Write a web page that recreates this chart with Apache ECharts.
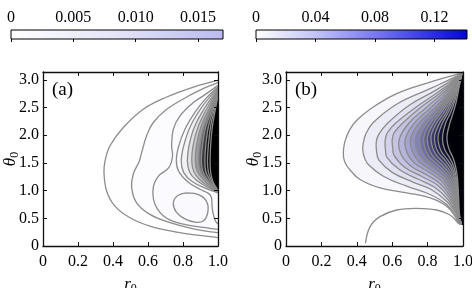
<!DOCTYPE html>
<html><head><meta charset="utf-8">
<script src="https://cdn.jsdelivr.net/npm/echarts@6/dist/echarts.min.js"></script>
<style>html,body{margin:0;padding:0;background:#fff}#c{width:472px;height:288px}</style>
</head><body><div id="c"></div>
<script>
// ---------- data ----------
const rTicks = [0, 0.2, 0.4, 0.6, 0.8, 1.0];
const thetaTicks = [0, 0.5, 1.0, 1.5, 2.0, 2.5, 3.0];
const cbarATicks = [0, 0.005, 0.010, 0.015];
const cbarBTicks = [0, 0.04, 0.08, 0.12];
const cbarAMax = 0.0170;
const cbarBMax = 0.1418;

// panel (a) contours: [r0, theta0]
const a1 = [[1,2.99],[0.86,2.87],[0.707,2.69],[0.573,2.47],[0.459,2.14],[0.383,1.81],[0.354,1.53],[0.349,1.30],[0.364,0.99],[0.411,0.72],[0.497,0.51],[0.611,0.36],[0.764,0.25],[0.897,0.19],[1,0.15]];
const a2 = [[1,2.95],[0.90,2.82],[0.821,2.69],[0.707,2.47],[0.63,2.23],[0.592,1.99],[0.564,1.69],[0.55,1.53],[0.516,1.30],[0.507,1.05],[0.535,0.78],[0.611,0.57],[0.726,0.42],[0.859,0.31],[1,0.24]];
const a3 = [[1,2.90],[0.92,2.72],[0.859,2.59],[0.783,2.35],[0.745,2.11],[0.735,1.81],[0.74,1.62],[0.72,1.42],[0.66,1.26],[0.63,1.05],[0.64,0.75],[0.707,0.50],[0.821,0.38],[0.93,0.33],[1,0.30]];
const a4 = [[1,2.87],[0.93,2.66],[0.87,2.42],[0.81,2.10],[0.775,1.80],[0.762,1.55],[0.775,1.35],[0.83,1.15],[0.90,1.02],[0.945,0.95],[0.962,0.88],[0.965,0.78],[0.97,0.62],[0.985,0.45],[1,0.40]];
const a5 = [[0.82,0.96],[0.77,0.91],[0.745,0.78],[0.76,0.62],[0.805,0.50],[0.87,0.43],[0.915,0.45],[0.94,0.58],[0.938,0.78],[0.895,0.92],[0.82,0.96]];
const a6 = [[1,2.85],[0.92,2.56],[0.845,2.18],[0.805,1.82],[0.79,1.53],[0.805,1.32],[0.85,1.17],[0.93,1.04],[1,0.96]];
const a7 = [[1,2.83],[0.932,2.53],[0.868,2.17],[0.835,1.82],[0.825,1.53],[0.838,1.33],[0.875,1.19],[0.94,1.06],[1,0.97]];
const a8 = [[1,2.81],[0.942,2.51],[0.887,2.16],[0.858,1.82],[0.85,1.53],[0.862,1.34],[0.895,1.20],[0.948,1.07],[1,0.975]];
const a9 = [[1,2.80],[0.951,2.49],[0.903,2.16],[0.877,1.82],[0.87,1.53],[0.881,1.35],[0.912,1.21],[0.956,1.08],[1,0.98]];
const a10 = [[1,2.79],[0.959,2.48],[0.918,2.15],[0.896,1.82],[0.89,1.53],[0.90,1.35],[0.927,1.22],[0.963,1.09],[1,0.985]];
const a11 = [[1,2.77],[0.965,2.46],[0.93,2.15],[0.912,1.82],[0.905,1.53],[0.912,1.36],[0.935,1.22],[0.965,1.09],[1,0.99]];
const a12 = [[1,2.75],[0.972,2.46],[0.945,2.15],[0.93,1.82],[0.925,1.53],[0.93,1.35],[0.95,1.21],[0.972,1.09],[1,0.995]];
const a13 = [[1,2.73],[0.978,2.46],[0.958,2.16],[0.945,1.82],[0.94,1.53],[0.945,1.34],[0.962,1.19],[0.98,1.08],[1,1.0]];
const a14 = [[1,2.70],[0.984,2.45],[0.968,2.16],[0.958,1.82],[0.955,1.53],[0.958,1.33],[0.97,1.17],[0.985,1.08],[1,1.005]];

// panel (b) contours (all meet near the top-right and bottom-right corners)
const b1 = [[0.995,3.125],[0.98,3.11],[0.90,3.04],[0.814,2.96],[0.625,2.75],[0.475,2.47],[0.40,2.27],[0.362,2.11],[0.336,1.92],[0.325,1.75],[0.325,1.60],[0.335,1.50],[0.352,1.41],[0.418,1.20],[0.531,1.05],[0.682,0.96],[0.814,0.87],[0.908,0.72],[0.955,0.53],[0.975,0.41],[0.99,0.395]];
const b2 = [[0.995,3.125],[0.98,3.09],[0.814,2.84],[0.625,2.56],[0.493,2.23],[0.452,2.03],[0.437,1.87],[0.434,1.72],[0.445,1.58],[0.465,1.47],[0.55,1.26],[0.682,1.08],[0.814,0.93],[0.908,0.75],[0.96,0.55],[0.977,0.42],[0.99,0.395]];
const b3 = [[0.995,3.125],[0.98,3.08],[0.84,2.80],[0.70,2.55],[0.575,2.22],[0.525,2.02],[0.51,1.88],[0.512,1.70],[0.525,1.55],[0.60,1.33],[0.72,1.15],[0.82,1.02],[0.91,0.80],[0.962,0.58],[0.977,0.45],[0.99,0.395]];
const b4 = [[0.995,3.125],[0.98,3.07],[0.86,2.78],[0.74,2.52],[0.62,2.22],[0.572,2.04],[0.56,1.90],[0.562,1.74],[0.57,1.60],[0.64,1.38],[0.75,1.20],[0.84,1.06],[0.915,0.84],[0.962,0.60],[0.977,0.46],[0.99,0.395]];
const b5 = [[0.995,3.125],[0.98,3.06],[0.87,2.76],[0.76,2.50],[0.66,2.22],[0.612,2.05],[0.60,1.92],[0.603,1.77],[0.61,1.64],[0.67,1.42],[0.77,1.25],[0.855,1.10],[0.92,0.88],[0.963,0.62],[0.977,0.47],[0.99,0.395]];
const b6 = [[0.995,3.125],[0.98,3.05],[0.88,2.74],[0.785,2.48],[0.695,2.22],[0.64,1.93],[0.648,1.67],[0.70,1.46],[0.79,1.29],[0.87,1.13],[0.925,0.91],[0.964,0.64],[0.977,0.48],[0.99,0.395]];
const b7 = [[0.995,3.125],[0.98,3.04],[0.89,2.72],[0.805,2.46],[0.725,2.22],[0.675,1.94],[0.682,1.70],[0.725,1.50],[0.81,1.33],[0.88,1.17],[0.93,0.94],[0.965,0.66],[0.977,0.49],[0.99,0.395]];
const b8 = [[0.995,3.125],[0.98,3.03],[0.90,2.70],[0.825,2.45],[0.752,2.22],[0.705,1.95],[0.712,1.72],[0.75,1.53],[0.825,1.36],[0.89,1.20],[0.935,0.97],[0.966,0.68],[0.977,0.50],[0.99,0.395]];
const b9 = [[0.995,3.125],[0.98,3.02],[0.908,2.69],[0.84,2.44],[0.776,2.22],[0.732,1.96],[0.738,1.74],[0.772,1.56],[0.84,1.39],[0.898,1.23],[0.94,1.00],[0.967,0.70],[0.977,0.51],[0.99,0.395]];
const b10 = [[0.995,3.125],[0.98,3.01],[0.915,2.68],[0.855,2.43],[0.797,2.22],[0.757,1.97],[0.762,1.76],[0.792,1.58],[0.852,1.42],[0.906,1.26],[0.945,1.03],[0.968,0.72],[0.977,0.52],[0.99,0.395]];
const b11 = [[0.995,3.125],[0.98,3.00],[0.922,2.67],[0.868,2.42],[0.816,2.22],[0.78,1.98],[0.784,1.78],[0.81,1.61],[0.864,1.45],[0.913,1.29],[0.948,1.06],[0.969,0.74],[0.977,0.53],[0.99,0.395]];
const b12 = [[0.995,3.125],[0.98,2.99],[0.928,2.66],[0.88,2.42],[0.834,2.22],[0.80,1.99],[0.804,1.80],[0.828,1.63],[0.876,1.48],[0.92,1.32],[0.952,1.09],[0.97,0.76],[0.977,0.54],[0.99,0.395]];
const b13 = [[0.995,3.125],[0.98,2.98],[0.934,2.65],[0.892,2.41],[0.851,2.22],[0.82,2.00],[0.824,1.82],[0.845,1.66],[0.888,1.51],[0.927,1.35],[0.955,1.12],[0.971,0.78],[0.977,0.55],[0.99,0.395]];
const b14 = [[0.995,3.125],[0.98,2.97],[0.94,2.64],[0.904,2.40],[0.868,2.22],[0.84,2.00],[0.843,1.83],[0.862,1.68],[0.90,1.54],[0.934,1.38],[0.958,1.15],[0.972,0.80],[0.977,0.56],[0.99,0.395]];
const b15 = [[0.995,3.125],[0.98,2.95],[0.946,2.62],[0.915,2.40],[0.884,2.22],[0.86,2.00],[0.863,1.84],[0.879,1.70],[0.912,1.56],[0.94,1.41],[0.961,1.18],[0.973,0.83],[0.977,0.58],[0.99,0.395]];
const b16 = [[0.995,3.125],[0.98,2.93],[0.952,2.60],[0.927,2.39],[0.902,2.22],[0.885,2.00],[0.887,1.85],[0.90,1.72],[0.925,1.59],[0.947,1.44],[0.964,1.21],[0.974,0.86],[0.977,0.60],[0.99,0.395]];
const b17 = [[0.995,3.125],[0.98,2.90],[0.96,2.58],[0.942,2.38],[0.924,2.20],[0.91,2.00],[0.912,1.86],[0.922,1.74],[0.94,1.62],[0.955,1.48],[0.968,1.25],[0.975,0.90],[0.978,0.62],[0.99,0.395]];
const bLow = [[0.449,0.05],[0.475,0.35],[0.531,0.53],[0.625,0.65],[0.738,0.68],[0.851,0.65],[0.927,0.56],[0.974,0.41],[0.99,0.395]];

const contoursA = [a1, a2, a3, a4, a5, a6, a7, a8, a9, a10, a11, a12, a13, a14];
const contoursB = [b1, b2, b3, b4, b5, b6, b7, b8, b9, b10, b11, b12, b13, b14, b15, b16, b17];
const linesB = contoursB.concat([bLow]);

// ---------- styles ----------
const fillsA = ['#fefeff','#fcfcff','#fafaff','#fbfbff','#f9f9fe','#f2f2f5','#e0e0e4','#c6c6cc','#9a9aa0','#6a6a70','#38383c','#141414','#000000','#000000'];
const fillsB = ['#f6f6fb','#ececf6','#e0e0f0','#d2d2ea','#c4c4e2','#b4b4da','#a4a4d0','#9494c4','#8282b6','#7070a6','#5e5e94','#4c4c80','#3a3a6a','#262650','#161636','#08081a','#000008'];
const SERIF = 'Liberation Serif';
const LINE = '#8c8c8c';
const SM = 0.4;

function isClosed(c) {
  const a = c[0], b = c[c.length - 1];
  return a[0] === b[0] && a[1] === b[1];
}
function fillRender(list, fills) {
  return function (params, api) {
    const i = api.value(2);
    const c = list[i];
    let pts = c.map(p => api.coord(p));
    if (isClosed(c)) {
      pts.pop();
    } else {
      pts.push(api.coord([1.06, c[c.length - 1][1]]));
      pts.push(api.coord([1.06, c[0][1]]));
    }
    return { type: 'polygon', shape: { points: pts, smooth: SM }, style: { fill: fills[i] } };
  };
}
function lineRender(list) {
  return function (params, api) {
    const c = list[api.value(2)];
    const pts = c.map(p => api.coord(p));
    return { type: 'polyline', shape: { points: pts, smooth: SM }, style: { stroke: LINE, lineWidth: 1.3, fill: null } };
  };
}
function idxData(list) { return list.map((c, i) => [c[0][0], c[0][1], i]); }

function cbarRender(stops) {
  return function (params, api) {
    const p0 = api.coord([0, 1]);
    const p1 = api.coord([api.value(0), 0]);
    return {
      type: 'rect',
      shape: { x: p0[0], y: p0[1], width: p1[0] - p0[0], height: p1[1] - p0[1] },
      style: { fill: new echarts.graphic.LinearGradient(0, 0, 1, 0, stops), stroke: '#000', lineWidth: 1 }
    };
  };
}

const labelStyle = { fontFamily: SERIF, fontSize: 16, color: '#000' };
function fmt1(v) { return v === 0 ? '0' : v.toFixed(1); }

function cbarX(grid, max, ticks, dec) {
  return {
    type: 'value', gridIndex: grid, position: 'top', min: 0, max: max, interval: ticks[1] - ticks[0], z: 10,
    axisLine: { show: false }, splitLine: { show: false },
    axisTick: { show: true, inside: true, length: 3, lineStyle: { color: '#000', width: 1 } },
    axisLabel: Object.assign({ margin: 4, showMaxLabel: false, formatter: v => v === 0 ? '0' : v.toFixed(dec) }, labelStyle)
  };
}
function hiddenY(grid) {
  return { type: 'value', gridIndex: grid, min: 0, max: 1, show: false };
}
const nameRich = {
  i: { fontFamily: SERIF, fontStyle: 'italic', fontSize: 17, color: '#000' },
  s: { fontFamily: SERIF, fontSize: 12, color: '#000', padding: [8, 0, 0, 0] }
};
function plotX(grid, pos, main) {
  return {
    type: 'value', gridIndex: grid, position: pos, min: 0, max: 1, interval: rTicks[1] - rTicks[0], z: 10,
    axisLine: { show: true, onZero: false, lineStyle: { color: '#111', width: 1.3 } },
    axisTick: { show: true, inside: true, length: 4, lineStyle: { color: '#111', width: 1 } },
    splitLine: { show: false },
    axisLabel: main ? Object.assign({ margin: 8, formatter: fmt1 }, labelStyle) : { show: false },
    name: main ? '{i|r}{s|0}' : '', nameLocation: 'middle', nameGap: 29, nameMoveOverlap: false,
    nameTextStyle: { rich: nameRich }
  };
}
function plotY(grid, pos, main) {
  return {
    type: 'value', gridIndex: grid, position: pos, min: 0, max: Math.PI, interval: thetaTicks[1] - thetaTicks[0], z: 10,
    axisLine: { show: true, onZero: false, lineStyle: { color: '#111', width: 1.3 } },
    axisTick: { show: true, inside: true, length: 4, lineStyle: { color: '#111', width: 1 } },
    splitLine: { show: false },
    axisLabel: main ? Object.assign({ margin: 4, formatter: fmt1, showMaxLabel: false }, labelStyle) : { show: false },
    name: main ? '{i|θ}{s|0}' : '', nameLocation: 'middle', nameGap: 22, nameRotate: 90, nameMoveOverlap: false,
    nameTextStyle: { rich: nameRich }
  };
}

const option = {
  animation: false,
  backgroundColor: '#fff',
  title: [
    { text: '(a)', left: 47, top: 76, textStyle: { fontFamily: SERIF, fontSize: 19, fontWeight: 'normal', color: '#000' } },
    { text: '(b)', left: 290, top: 76, textStyle: { fontFamily: SERIF, fontSize: 19, fontWeight: 'normal', color: '#000' } }
  ],
  grid: [
    { left: 11, top: 30, width: 212, height: 9, outerBoundsMode: 'none', containLabel: false },
    { left: 256, top: 30, width: 211, height: 9, outerBoundsMode: 'none', containLabel: false },
    { left: 43, top: 72, width: 175, height: 174, outerBoundsMode: 'none', containLabel: false },
    { left: 286, top: 72, width: 177, height: 174, outerBoundsMode: 'none', containLabel: false }
  ],
  xAxis: [
    cbarX(0, cbarAMax, cbarATicks, 3),
    cbarX(1, cbarBMax, cbarBTicks, 2),
    plotX(2, 'bottom', true), plotX(2, 'top', false),
    plotX(3, 'bottom', true), plotX(3, 'top', false)
  ],
  yAxis: [
    hiddenY(0), hiddenY(1),
    plotY(2, 'left', true), plotY(2, 'right', false),
    plotY(3, 'left', true), plotY(3, 'right', false)
  ],
  series: [
    { type: 'custom', xAxisIndex: 0, yAxisIndex: 0, data: [[cbarAMax, 1]], renderItem: cbarRender([{ offset: 0, color: '#ffffff' }, { offset: 0.5, color: '#e4e4f8' }, { offset: 1, color: '#babaf0' }]) },
    { type: 'custom', xAxisIndex: 1, yAxisIndex: 1, data: [[cbarBMax, 1]], renderItem: cbarRender([{ offset: 0, color: '#ffffff' }, { offset: 0.28, color: '#c4c4f8' }, { offset: 0.56, color: '#7a7af2' }, { offset: 0.85, color: '#2a2ae6' }, { offset: 1, color: '#0505d5' }]) },
    { type: 'custom', xAxisIndex: 2, yAxisIndex: 2, clip: true, z: 1, data: idxData(contoursA), renderItem: fillRender(contoursA, fillsA) },
    { type: 'custom', xAxisIndex: 2, yAxisIndex: 2, clip: true, z: 2, data: idxData(contoursA), renderItem: lineRender(contoursA) },
    { type: 'custom', xAxisIndex: 4, yAxisIndex: 4, clip: true, z: 1, data: idxData(contoursB), renderItem: fillRender(contoursB, fillsB) },
    { type: 'custom', xAxisIndex: 4, yAxisIndex: 4, clip: true, z: 2, data: idxData(linesB), renderItem: lineRender(linesB) }
  ]
};
const chart = echarts.init(document.getElementById('c'), null, { renderer: 'canvas' });
chart.setOption(option);
</script>
</body></html>
